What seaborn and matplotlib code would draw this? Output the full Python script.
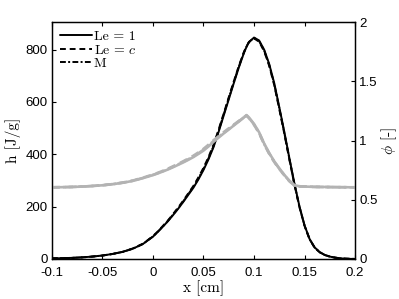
import numpy as np
import pandas as pd
import matplotlib
matplotlib.use("Agg")
import matplotlib.pyplot as plt
import seaborn as sns

# values
x = [-0.10, -0.09, -0.08, -0.07, -0.06, -0.05, -0.04, -0.03, -0.02, -0.01,
     0.0, 0.005, 0.01, 0.015, 0.02, 0.025, 0.03, 0.035, 0.04, 0.045,
     0.05, 0.055, 0.06, 0.065, 0.07, 0.075, 0.08, 0.085, 0.09, 0.0925,
     0.095, 0.10, 0.105, 0.11, 0.115, 0.12, 0.125, 0.13, 0.135, 0.14,
     0.145, 0.15, 0.155, 0.16, 0.165, 0.17, 0.175, 0.18, 0.185, 0.19,
     0.195, 0.20]

h_le1 = [2, 3, 4, 6, 9, 13, 19, 27, 39, 57,
         85, 104, 124, 145, 168, 192, 218, 245, 272, 304,
         340, 381, 428, 486, 548, 610, 672, 732, 787, 810,
         829, 846, 835, 800, 745, 672, 580, 485, 385, 288,
         200, 128, 76, 44, 26, 15, 9, 5, 2.5, 1,
         0.3, 0]
h_lec = [2, 3, 4, 6, 9, 13, 19, 27, 40, 58,
         87, 106, 127, 148, 172, 197, 223, 251, 279, 312,
         348, 390, 437, 495, 556, 618, 679, 738, 791, 812,
         829, 843, 830, 794, 738, 664, 572, 478, 379, 283,
         197, 126, 75, 43, 25, 15, 9, 5, 2.5, 1,
         0.3, 0]
h_m = [2, 3, 4, 6, 9, 13, 19, 27, 39, 57,
       86, 105, 125, 146, 170, 194, 220, 248, 275, 308,
       344, 385, 432, 490, 552, 614, 676, 735, 789, 811,
       829, 845, 833, 797, 742, 668, 576, 481, 382, 285,
       198, 127, 75, 43, 26, 15, 9, 5, 2.5, 1,
       0.3, 0]

phi_le1 = [0.605, 0.606, 0.608, 0.611, 0.616, 0.622, 0.631, 0.643, 0.659, 0.682,
           0.708, 0.723, 0.739, 0.756, 0.775, 0.795, 0.815, 0.837, 0.860, 0.887,
           0.915, 0.950, 0.990, 1.025, 1.060, 1.093, 1.127, 1.160, 1.195, 1.215,
           1.195, 1.140, 1.070, 0.975, 0.895, 0.825, 0.765, 0.710, 0.660, 0.622,
           0.614, 0.611, 0.610, 0.609, 0.608, 0.608, 0.607, 0.607, 0.606, 0.606,
           0.605, 0.605]
phi_lec = [0.605, 0.606, 0.608, 0.611, 0.616, 0.623, 0.632, 0.645, 0.662, 0.686,
           0.713, 0.728, 0.745, 0.763, 0.783, 0.804, 0.825, 0.848, 0.872, 0.900,
           0.930, 0.965, 1.003, 1.037, 1.071, 1.103, 1.135, 1.166, 1.198, 1.210,
           1.188, 1.132, 1.062, 0.968, 0.888, 0.818, 0.759, 0.705, 0.656, 0.620,
           0.613, 0.611, 0.609, 0.608, 0.608, 0.607, 0.607, 0.606, 0.606, 0.605,
           0.605, 0.605]
phi_m = [0.605, 0.606, 0.608, 0.611, 0.616, 0.622, 0.631, 0.644, 0.660, 0.684,
         0.710, 0.725, 0.742, 0.760, 0.779, 0.799, 0.820, 0.842, 0.866, 0.893,
         0.922, 0.957, 0.996, 1.031, 1.065, 1.098, 1.131, 1.163, 1.196, 1.212,
         1.191, 1.136, 1.066, 0.971, 0.891, 0.821, 0.762, 0.707, 0.658, 0.621,
         0.613, 0.611, 0.610, 0.609, 0.608, 0.607, 0.607, 0.606, 0.606, 0.606,
         0.605, 0.605]

models = ["Le1", "Lec", "M"]
labels = ["Le = 1", "Le = $c$", "M"]

frames = []
for name, hv, pv in zip(models, [h_le1, h_lec, h_m], [phi_le1, phi_lec, phi_m]):
    frames.append(pd.DataFrame({"x": x, "h": hv, "phi": pv, "model": name}))
df = pd.concat(frames, ignore_index=True)

sns.set_theme(style="ticks")
plt.rcParams["font.family"] = ["Liberation Sans", "DejaVu Sans"]
plt.rcParams["mathtext.fontset"] = "cm"
for key in ["text.color", "axes.labelcolor", "xtick.color", "ytick.color",
            "axes.edgecolor"]:
    plt.rcParams[key] = "black"

dash_map = {"Le1": "", "Lec": (3, 2), "M": (3, 1.2, 1, 1.2)}

fig = plt.figure(figsize=(3.99, 2.99), dpi=100)
ax = fig.add_axes([0.130, 0.134, 0.760, 0.792])
ax2 = ax.twinx()

sns.lineplot(data=df, x="x", y="h", style="model", style_order=models,
             dashes=dash_map, color="black", linewidth=1.4,
             estimator=None, sort=False, legend=False, ax=ax)
sns.lineplot(data=df, x="x", y="phi", style="model", style_order=models,
             dashes=dash_map, color="#b3b3b3", linewidth=1.9,
             estimator=None, sort=False, legend=False, ax=ax2)

ax.set_xlim(-0.1, 0.2)
ax.set_ylim(0, 905)
ax2.set_ylim(0, 2)
ax.set_xticks([-0.1, -0.05, 0, 0.05, 0.1, 0.15, 0.2])
ax.set_xticklabels(["-0.1", "-0.05", "0", "0.05", "0.1", "0.15", "0.2"])
ax.set_yticks([0, 200, 400, 600, 800])
ax2.set_yticks([0, 0.5, 1, 1.5, 2])
ax2.set_yticklabels(["0", "0.5", "1", "1.5", "2"])

ax.tick_params(axis="x", direction="in", top=True, length=3, width=0.8,
               labelsize=9.5, pad=5.5)
ax.tick_params(axis="y", direction="in", right=False, length=3, width=0.8,
               labelsize=9.5, pad=3)
ax2.tick_params(axis="y", direction="in", length=3, width=0.8,
                labelsize=9.5, pad=3)

for a in (ax, ax2):
    for s in a.spines.values():
        s.set_visible(True)
        s.set_color("black")
        s.set_linewidth(0.9)

ax.set_xlabel("x [cm]", fontsize=11, family="cmr10", labelpad=1)
ax.set_ylabel("h [J/g]", fontsize=11, family="cmr10", labelpad=3)
ax2.set_ylabel(r"$\phi$ [-]", fontsize=11, family="cmr10", color="black",
               labelpad=1)

handles = ax.get_lines()[:3]
ax.legend(handles, labels, loc="upper left", frameon=False,
          prop={"family": "cmr10", "size": 10},
          handlelength=2.3, handletextpad=0.1, labelspacing=0.05,
          borderaxespad=0.3, borderpad=0.3)

fig.savefig("out.png", dpi=100)
